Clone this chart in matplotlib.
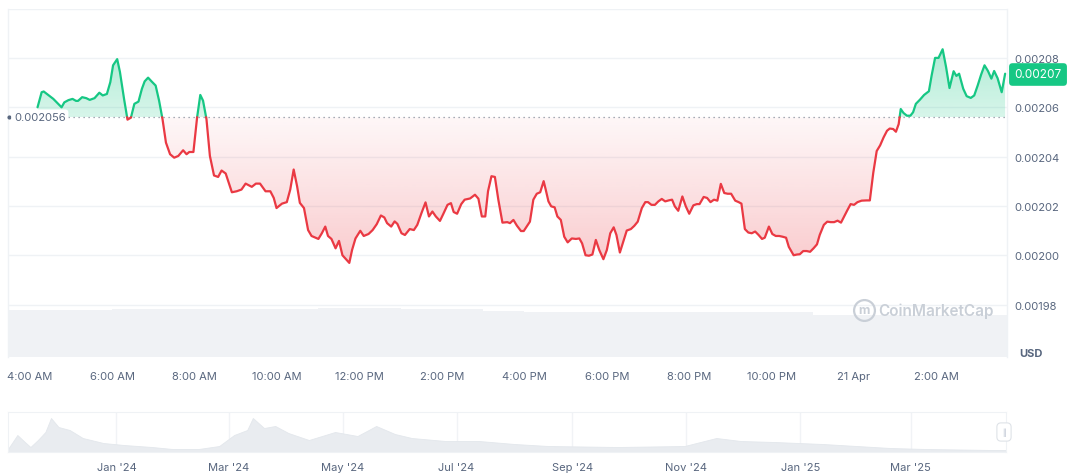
import numpy as np
import matplotlib
matplotlib.use("Agg")
import matplotlib.pyplot as plt
import matplotlib.colors as mcolors
from matplotlib.path import Path

plt.rcParams['font.family'] = ['Inter', 'DejaVu Sans']

# price, minutes after midnight of 20 Apr (values > 1440 are 21 Apr)
minutes = [251, 257, 260, 269, 274, 281, 286, 290, 296, 302, 307, 310, 316, 322, 327, 334, 341, 346, 352, 357,
           361, 367, 371, 377, 382, 387, 392, 398, 403, 407, 412, 417, 423, 428, 433, 438, 444, 450, 456, 463,
           468, 472, 478, 483,
           488, 492, 497, 502, 508, 514, 519, 525, 534, 541, 548, 554, 563, 569, 575, 583, 590, 595, 599, 607,
           614, 619, 624, 629, 633, 639, 645, 650, 660, 665, 670, 674, 679, 685, 690, 695, 705, 709, 714, 721,
           726, 733, 739, 745, 751, 756, 760, 766, 771, 775, 781, 786, 793, 799, 804, 810, 816, 821, 826, 831,
           837, 842, 848, 853, 857, 862, 868, 873, 881, 888, 893, 898, 903, 907, 912, 917, 922, 928, 935, 939,
           944, 949, 955, 959,
           968, 973, 978, 983, 988, 991, 995, 999, 1004, 1008, 1013, 1018, 1023, 1029, 1035, 1040, 1044, 1049,
           1054, 1059, 1064, 1069, 1075, 1080, 1085, 1090, 1094, 1099, 1104, 1109, 1115, 1120, 1125, 1131, 1136,
           1140, 1145, 1150, 1155, 1160, 1165, 1170, 1175, 1179, 1184, 1190, 1195, 1200,
           1206, 1211, 1215, 1221, 1226, 1231, 1236, 1241, 1246, 1251, 1256, 1261, 1267, 1272, 1276, 1281, 1286,
           1291, 1296, 1301, 1306, 1310, 1316, 1321, 1326, 1331, 1336, 1341, 1345, 1352, 1357, 1361, 1366, 1371,
           1376, 1381, 1386, 1390, 1396, 1401, 1406, 1411, 1416, 1421, 1425, 1430, 1435, 1440, 1445,
           1451, 1458, 1463, 1468, 1473, 1478, 1483, 1488, 1492, 1497, 1501, 1505, 1508, 1512, 1517, 1522, 1526,
           1530, 1536, 1542, 1549, 1553, 1558, 1563, 1569, 1574, 1579, 1585, 1589, 1593, 1599, 1604, 1610, 1615,
           1620, 1625, 1630, 1635, 1640, 1644, 1649, 1655, 1660]

# price in millionths of a USD
price_e6 = [2060, 2066.1, 2066.4, 2064.5, 2063.4, 2061.4, 2060, 2062, 2062.9, 2063.4, 2062.6, 2062.6, 2064.1,
            2063.7, 2063, 2063.7, 2065.9, 2064.8, 2065.4, 2070.2, 2077, 2079.5, 2074.3, 2063.4, 2055, 2055.8,
            2061.4, 2062.3, 2067.5, 2070.5, 2072, 2070.5, 2068.8, 2062.7, 2055.2, 2045.7, 2041, 2039.6, 2040.3,
            2042.6, 2041, 2041.9, 2041.9, 2055.2,
            2065, 2062.7, 2055.2, 2040.3, 2032.4, 2031.8, 2034.4, 2033.2, 2025.6, 2026, 2026.7, 2029.1, 2027.8,
            2029.1, 2029.1, 2026, 2026, 2023.3, 2019.2, 2021, 2021.6, 2026.7, 2034.8, 2028, 2021.3, 2019.2,
            2010.3, 2007.9, 2006.7, 2009, 2011.7, 2007.9, 2006.7, 2002.9, 2005.9, 2000.1, 1997, 2002.2, 2006.9,
            2010,
            2007.9, 2008.7, 2010.3, 2012.7, 2016.2, 2015.4, 2013.1, 2011.7, 2013.8, 2012.8, 2009, 2008.3, 2010.7,
            2010.3, 2012.4, 2017.1, 2021.5, 2015.8, 2017.8, 2015.8, 2014, 2016.9, 2020.5, 2021.2, 2017.6, 2016.9,
            2020.8, 2022.6, 2023.1, 2024.6, 2023, 2015.8, 2015.8, 2026, 2032.1, 2031.8, 2022.6, 2013.3, 2013.5,
            2013.1, 2014.4, 2012.1, 2009.9, 2009.9,
            2013.7, 2022.6, 2025, 2025.6, 2030.1, 2026.7, 2021.9, 2019.9, 2019.5, 2015.8, 2014.4, 2007.6, 2005.3,
            2006.9, 2006.7, 2006.9, 2004.9, 2000.1, 1999.9, 2000.4, 2006.3, 2002.2, 1998.5, 2002.2, 2009, 2011.4,
            2008.3, 2001.2, 2005.6, 2010.1, 2010.7, 2012, 2013.7, 2019.2, 2021.6, 2021.6, 2020.5, 2020.5, 2021.9,
            2022.9, 2021.9, 2022.3, 2022.6, 2019.9, 2018.1, 2023.9, 2019.9, 2016.9,
            2020.3, 2020.8, 2020.8, 2023.7, 2023.3, 2021.6, 2022.6, 2022.2, 2029, 2025.3, 2025, 2025, 2022.2,
            2021.6, 2021, 2010.7, 2009.3, 2009, 2009.7, 2008.3, 2006.7, 2007.2, 2011.7, 2008.7, 2007.9, 2007.9,
            2007.6, 2007.2, 2003.5, 2000.1, 2000.4, 2000.5, 2001.8, 2001.8, 2001.5, 2002.9, 2004.5, 2008.3,
            2012.4, 2013.7, 2013.5, 2013.5, 2014.1, 2013.3, 2015.5, 2018.2, 2020.8, 2020.5, 2021.6,
            2022.2, 2022.3, 2022.3, 2033.5, 2042.3, 2044.6, 2047.8, 2050.5, 2051.4, 2051.2, 2050.1, 2053.2,
            2059.3, 2057.7, 2056.6, 2056.6, 2058, 2061.4, 2063.1, 2065, 2066.5, 2072.9, 2080, 2080, 2083.5,
            2076.3, 2067.8, 2074.6, 2072.7, 2073.6, 2067.5, 2064.5, 2063.8, 2064.8, 2068.8, 2073.2, 2077, 2074.7,
            2071.6, 2074.7, 2071.8, 2066.1, 2073.6]

base_price = 0.002056
last_price = "0.00207"

# volume, relative level per hour (hours after midnight 20 Apr)
vol_hours = [3, 4, 5, 6, 7, 8, 9, 10, 11, 12, 13, 14, 15, 16, 17, 18, 19, 20, 21, 22, 23, 24, 25, 26, 27, 28]
vol_level = [47, 47, 47.5, 48, 48, 48, 48.5, 48.5, 49, 49, 48.5, 48, 46, 45.5, 45.5, 45, 45, 45, 45, 45,
             42.5, 42.5, 42, 42, 42, 42]

tick_minutes = [240, 360, 480, 600, 720, 840, 960, 1080, 1200, 1320, 1440, 1560]
tick_labels = ["4:00 AM", "6:00 AM", "8:00 AM", "10:00 AM", "12:00 PM", "2:00 PM", "4:00 PM",
               "6:00 PM", "8:00 PM", "10:00 PM", "21 Apr", "2:00 AM"]
y_ticks = [0.00198, 0.00200, 0.00202, 0.00204, 0.00206, 0.00208, 0.00210]
y_labels = ["0.00198", "0.00200", "0.00202", "0.00204", "0.00206", "0.00208", ""]

# long-range navigator history (relative level)
hist_dates = ["2023-11-04", "2023-11-09", "2023-11-13", "2023-11-16", "2023-11-20", "2023-11-24", "2023-11-27",
              "2023-12-01", "2023-12-07", "2023-12-14", "2023-12-25", "2024-01-05", "2024-01-20", "2024-01-31",
              "2024-02-14", "2024-02-25", "2024-03-04", "2024-03-11", "2024-03-14", "2024-03-20", "2024-03-26",
              "2024-04-02", "2024-04-13", "2024-04-27", "2024-05-09", "2024-05-19", "2024-05-29", "2024-06-07",
              "2024-06-25", "2024-07-13", "2024-08-01", "2024-08-19", "2024-09-25", "2024-10-31", "2024-11-17",
              "2024-11-30", "2024-12-18", "2025-01-13", "2025-02-18", "2025-03-09", "2025-04-14", "2025-04-21"]
hist_level = [3, 17, 10, 5, 12, 20, 34, 25, 22, 14, 9, 7, 5, 3, 3, 6, 17, 22, 34, 24, 26, 19, 12, 20, 16, 26,
              18, 14, 11, 11, 8, 6, 5, 6, 14, 11, 10, 8, 4, 3, 2, 2]
nav_tick_dates = ["2024-01-01", "2024-03-01", "2024-05-01", "2024-07-01", "2024-09-01", "2024-11-01",
                  "2025-01-01", "2025-03-01"]
nav_tick_labels = ["Jan '24", "Mar '24", "May '24", "Jul '24", "Sep '24", "Nov '24", "Jan '25", "Mar '25"]

GREEN = "#16c784"
RED = "#ea3943"
TXT = "#58667e"
GRID = "#eff2f5"
W, H = 1072, 477


def split_at_base(t, p, base):
    tt, pp = [t[0]], [p[0]]
    for i in range(1, len(t)):
        a, b = p[i - 1] - base, p[i] - base
        if a * b < 0:
            f = a / (a - b)
            tt.append(t[i - 1] + f * (t[i] - t[i - 1]))
            pp.append(base)
        tt.append(t[i])
        pp.append(p[i])
    return np.array(tt), np.array(pp)


def gradient_fill(ax, x, y, base, color, a_base, a_far, above):
    mask = y >= base if above else y <= base
    coll = ax.fill_between(x, y, base, where=mask, facecolor='none', edgecolor='none', interpolate=True)
    path = Path.make_compound_path(*coll.get_paths())
    lo, hi = (base, y.max()) if above else (y.min(), base)
    n = 256
    img = np.zeros((n, 1, 4))
    img[:, :, :3] = mcolors.to_rgb(color)
    if above:
        img[:, 0, 3] = np.linspace(a_base, a_far, n)
    else:
        img[:, 0, 3] = np.linspace(a_far, a_base, n)
    im = ax.imshow(img, extent=[x.min(), x.max(), lo, hi], origin='lower', aspect='auto',
                   interpolation='bilinear', zorder=1)
    im.set_clip_path(path, ax.transData)


t = np.array(minutes, dtype=float)
p = np.array(price_e6) * 1e-6
assert len(t) == len(p)
tt, pp = split_at_base(t, p, base_price)

fig = plt.figure(figsize=(W / 100, H / 100), dpi=100)
ax = fig.add_axes([8 / W, (H - 358) / H, 998.5 / W, 348.5 / H])

# volume underneath
axv = ax.twinx()
axv.fill_between(np.array(vol_hours) * 60, vol_level, step='post', color="#f0f2f5", lw=0, zorder=0)
axv.set_ylim(0, 348.5)
axv.set_yticks([])
for s in axv.spines.values():
    s.set_visible(False)
ax.set_zorder(axv.get_zorder() + 1)
ax.patch.set_visible(False)

for yv in y_ticks:
    ax.axhline(yv, color=GRID, lw=1, zorder=0)

gradient_fill(ax, tt, pp, base_price, GREEN, 0.17, 0.34, True)
gradient_fill(ax, tt, pp, base_price, RED, 0.04, 0.26, False)

ax.plot(tt, np.where(pp >= base_price, pp, np.nan), color=GREEN, lw=1.6, zorder=3, solid_capstyle='round')
ax.plot(tt, np.where(pp <= base_price, pp, np.nan), color=RED, lw=1.6, zorder=3, solid_capstyle='round')

ax.axhline(base_price, color="#8a939f", lw=0.9, ls=(0, (1, 3)), zorder=2)
ax.plot([0.001], [base_price], marker='o', ms=2, color="#58667e",
        transform=ax.get_yaxis_transform(), clip_on=False, zorder=4)
ax.text(0.006, base_price, "0.002056", transform=ax.get_yaxis_transform(), ha='left', va='center',
        fontsize=8, color=TXT, zorder=5,
        bbox=dict(boxstyle="round,pad=0.25,rounding_size=0.3", fc="white", ec="none"))

ax.set_xlim(208, 1662)
ax.set_ylim(0.0019589, 0.00210)
ax.set_xticks(tick_minutes)
ax.set_xticklabels(tick_labels)
ax.yaxis.tick_right()
ax.set_yticks(y_ticks)
ax.set_yticklabels(y_labels)
ax.tick_params(axis='both', length=0, labelsize=8, labelcolor=TXT)
ax.tick_params(axis='x', pad=10)
ax.tick_params(axis='y', pad=6)
for k, s in ax.spines.items():
    if k in ("left", "right"):
        s.set_color(GRID)
        s.set_linewidth(1)
    else:
        s.set_visible(False)

# watermark
ax.plot(0.8575, 0.135, marker='o', ms=15, mfc='none', mec="#c9cfd7", mew=1.6,
        transform=ax.transAxes, zorder=2)
ax.text(0.8575, 0.135, "m", transform=ax.transAxes, ha='center', va='center', fontsize=9,
        color="#c9cfd7", fontweight='bold', zorder=2)
ax.text(0.872, 0.133, "CoinMarketCap", transform=ax.transAxes, ha='left', va='center',
        fontsize=11, color="#c9cfd7", fontweight='semibold', zorder=2)

fig.text(1019 / W, (H - 354) / H, "USD", ha='left', va='center', fontsize=8, color=TXT, fontweight='bold')
fig.text(1038 / W, (H - 75.5) / H, last_price, ha='center', va='center', fontsize=8.5, color='white',
         bbox=dict(boxstyle="round,pad=0.45,rounding_size=0.3", fc=GREEN, ec="none"))

# navigator
nav = fig.add_axes([8 / W, (H - 453) / H, 998 / W, 40 / H])
hd = np.array(hist_dates, dtype='datetime64[D]')
nav.fill_between(hd, hist_level, color="#e9ecf0", lw=0.6, edgecolor="#e3e7ec", zorder=1)
nav.set_ylim(0, 40)
nav.set_xlim(np.datetime64("2023-11-04"), np.datetime64("2025-04-21"))
nd = np.array(nav_tick_dates, dtype='datetime64[D]')
for d in nd:
    nav.axvline(d, color="#f1f3f6", lw=1, zorder=0)
nav.set_xticks(nd)
nav.set_xticklabels(nav_tick_labels)
nav.set_yticks([])
nav.tick_params(axis='x', length=0, labelsize=8, labelcolor=TXT, pad=7)
for s in nav.spines.values():
    s.set_color("#eff2f5")

fig.text(1004 / W, (H - 433) / H, "||", ha='center', va='center', fontsize=5, color="#a6b0c3",
         bbox=dict(boxstyle="round,pad=0.7,rounding_size=0.6", fc="white", ec="#dfe3e8", lw=0.8))

fig.savefig("out.png", dpi=100, facecolor="white")
